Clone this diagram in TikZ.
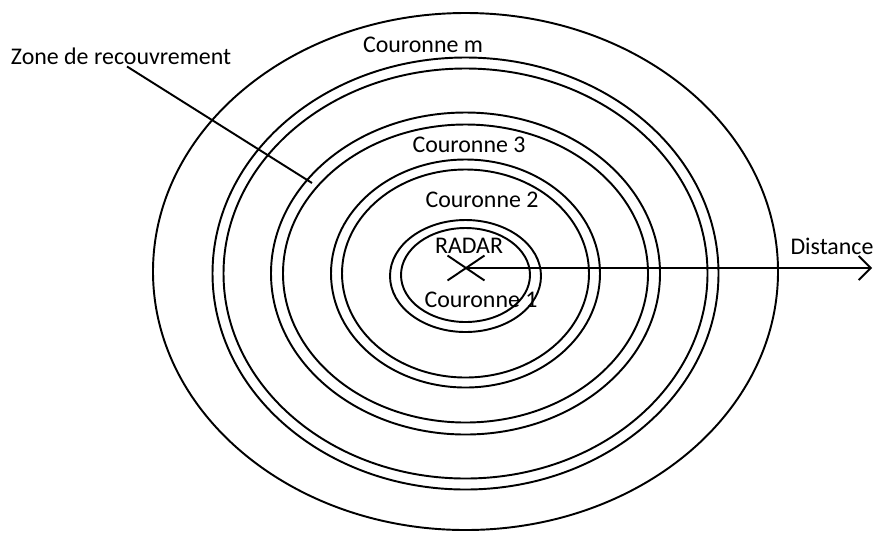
\documentclass[tikz,border=0pt]{standalone}
\usepackage{fontspec}
\setmainfont{Carlito}
\usetikzlibrary{arrows.meta}
\usetikzlibrary{shapes.misc}
\tikzstyle{ring}=[line width=1.1pt]
\tikzstyle{label text}=[inner sep=1pt, font=\fontsize{13.6}{15}\selectfont]
\tikzstyle{radar mark}=[draw, cross out, line width=1.1pt, minimum width=0.7cm, minimum height=0.46cm, inner sep=0pt]
\tikzstyle{axis}=[line width=1.1pt, -{Straight Barb[length=0.24cm, width=0.48cm, line width=1.1pt]}]

\begin{document}
\begin{tikzpicture}[x=0.02cm, y=-0.02cm]
      \useasboundingbox (0,0) rectangle (874,532);
      % outer boundary, then the overlapping pairs from Couronne m inwards
      \foreach \a/\b/\cy in {312.5/258.5/271.5, 253/216/273.5, 242/205/273.5,
          194.5/161/273.5, 182.5/149/273.5, 134.5/114/273.5, 123.5/104/273.5,
          75.5/56/276, 64.5/47/275}
        \draw[ring] (465.5,\cy) ellipse [x radius=\a, y radius=\b];
      \node[radar mark] (radar) at (466,268) {};
      \node[label text] (radarname) at (469,246) {RADAR};
      \node[label text] (c1) at (481,300) {Couronne 1};
      \node[label text] (c2) at (482,200) {Couronne 2};
      \node[label text] (c3) at (469,145) {Couronne 3};
      \node[label text] (cm) at (423,45) {Couronne m};
      \node[label text] (dist) at (832,246) {Distance};
      \node[label text] (zone) at (121,56) {Zone de recouvrement};
      \coordinate (far) at (872,268);
      \coordinate (overlap) at (312,183);
      \draw[axis] (radar.center) -- (far);
      \draw[ring] ([xshift=0.12cm]zone.south) -- (overlap);
    \end{tikzpicture}
\end{document}
